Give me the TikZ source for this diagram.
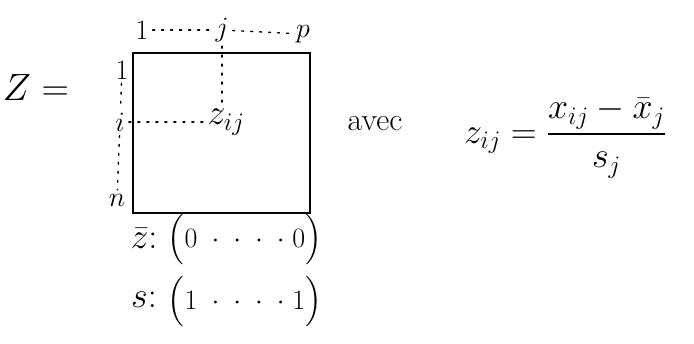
\RequirePackage{fix-cm}
\documentclass[tikz,border=0pt]{standalone}
\usepackage{amsmath,amssymb}
\usetikzlibrary{positioning}

\tikzset{
  big/.style={font=\fontsize{36}{40}\selectfont, inner sep=1pt},
  vec/.style={font=\fontsize{28}{32}\selectfont, inner sep=1pt},
  idx/.style={font=\fontsize{28}{32}\selectfont, inner sep=1pt},
  dots/.style={dash pattern=on 2pt off 7pt, line width=1.4pt, line cap=round,
               shorten >=3pt, shorten <=3pt}
}

\begin{document}
\begin{tikzpicture}[x=1pt,y=-1pt]
\useasboundingbox (0,0) rectangle (694,343);

% Matrix Z
\node[big, font=\fontsize{38}{42}\selectfont] (Z) at (36,88) {$Z=$};
\node[draw, line width=1.3pt, minimum width=177pt, minimum height=160pt] (mat) at (221.5,133) {};

% Column indices
\node[idx] (c1) at (142,30) {$1$};
\node[idx] (cj) at (222,30) {$j$};
\node[idx] (cp) at (303,34) {$p$};
\draw[dots] (c1) -- (cj);
\draw[dots] (cj) -- (cp);

% Row indices
\node[idx] (r1) at (122,70) {$1$};
\node[idx] (ri) at (120,122) {$i$};
\node[idx] (rn) at (117,200) {$n$};
\draw[dots] (r1) -- (ri);
\draw[dots] (ri) -- (rn);

% Entry z_ij
\node[big] (zij) at (226,122) {$z_{ij}$};
\draw[dots] (ri) -- (zij);
\draw[dots] (cj) -- (cj |- zij.north);

% Definition
\node[big, font=\fontsize{32}{36}\selectfont] (avec) at (375,124) {avec};
\node[big] (def) at (565,138) {$z_{ij}=\dfrac{x_{ij}-\bar{x}_j}{s_j}$};

% Means and standard deviations
\node[big] (zbar) at (144,238) {$\bar{z}{:}$};
\node[vec] (zvec) at (245,240) {$\Big(0\;\cdot\;\cdot\;\cdot\;\cdot\;0\Big)$};
\node[big] (s) at (144,300) {$s{:}$};
\node[vec] (svec) at (245,302) {$\Big(1\;\cdot\;\cdot\;\cdot\;\cdot\;1\Big)$};
\end{tikzpicture}
\end{document}
